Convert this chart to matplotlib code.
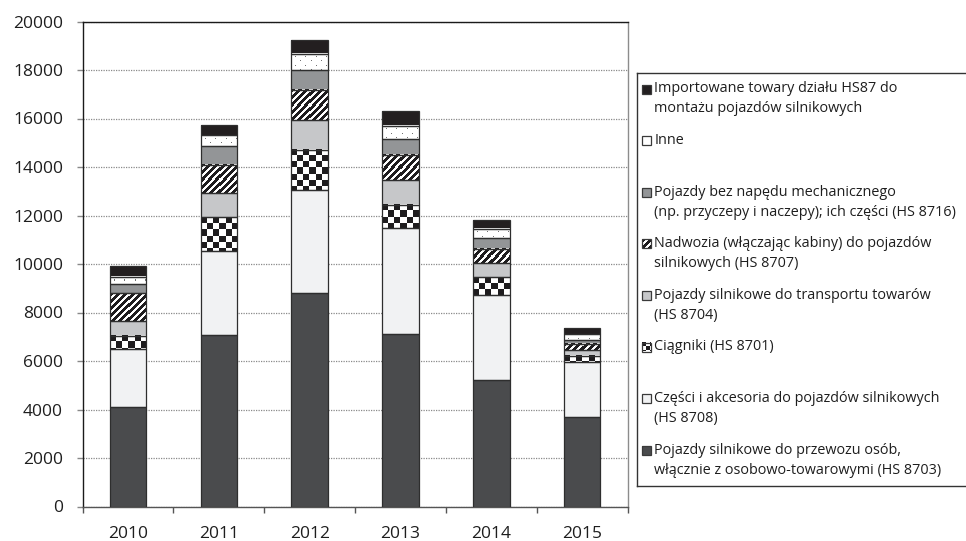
import numpy as np
import matplotlib
matplotlib.use("Agg")
import matplotlib.pyplot as plt
from matplotlib.patches import Rectangle

# ---- data (mln EUR) ----
years = ["2010", "2011", "2012", "2013", "2014", "2015"]
osobowe_8703 = [4090, 7070, 8790, 7120, 5230, 3690]
czesci_8708 = [2400, 3480, 4250, 4350, 3500, 2260]
ciagniki_8701 = [550, 1370, 1650, 950, 730, 270]
towarowe_8704 = [600, 990, 1230, 1040, 580, 230]
nadwozia_8707 = [1150, 1160, 1240, 1040, 590, 270]
bez_napedu_8716 = [400, 780, 850, 670, 440, 160]
inne = [290, 450, 660, 540, 380, 220]
import_hs87 = [440, 450, 550, 600, 370, 280]
yticks = list(range(0, 20001, 2000))

labels = [
    "Pojazdy silnikowe do przewozu osób,\nwłącznie z osobowo-towarowymi (HS 8703)",
    "Części i akcesoria do pojazdów silnikowych\n(HS 8708)",
    "Ciągniki (HS 8701)",
    "Pojazdy silnikowe do transportu towarów\n(HS 8704)",
    "Nadwozia (włączając kabiny) do pojazdów\nsilnikowych (HS 8707)",
    "Pojazdy bez napędu mechanicznego\n(np. przyczepy i naczepy); ich części (HS 8716)",
    "Inne",
    "Importowane towary działu HS87 do\nmontażu pojazdów silnikowych",
]
series = [osobowe_8703, czesci_8708, ciagniki_8701, towarowe_8704,
          nadwozia_8707, bez_napedu_8716, inne, import_hs87]

# fill style of each series: (face colour, texture)
styles = [
    ("#4a4b4d", None),
    ("#f1f2f3", None),
    ("#ffffff", "checker"),
    ("#c6c7c9", None),
    ("#ffffff", "stripes"),
    ("#939597", None),
    ("#ffffff", "dots"),
    ("#231f20", None),
]

plt.rcParams["font.family"] = ["Open Sans", "DejaVu Sans"]

W, H = 966, 541
fig = plt.figure(figsize=(W / 100, H / 100), dpi=100)
ax = fig.add_axes([82.5 / W, 1 - 506.5 / H, (627.7 - 82.5) / W, (506.5 - 21.5) / H])

x = np.arange(len(years))
ax.set_xlim(-0.5, len(years) - 0.5)
ax.set_ylim(0, 20000)

BLACK = np.array([0.12, 0.11, 0.12])
DOT = np.array([0.45, 0.45, 0.45])


def texture_rgb(kind, nh, nw, cell=6):
    rows, cols = np.mgrid[0:nh, 0:nw]
    rgb = np.ones((nh, nw, 3))
    if kind == "checker":
        mask = ((rows // cell + cols // cell) % 2) == 0
        rgb[mask] = BLACK
    elif kind == "stripes":
        mask = ((rows + cols) % 7) < 3.5
        rgb[mask] = BLACK
    elif kind == "dots":
        mask = ((rows % 8) == 3) & ((cols % 10) == 4)
        mask |= ((rows % 8) == 7) & ((cols % 10) == 9)
        rgb[mask] = DOT
    return rgb


def add_texture(axis, patch, kind, cell=6, zorder=3):
    x0, y0 = patch.get_x(), patch.get_y()
    w, h = patch.get_width(), patch.get_height()
    (px0, py0), (px1, py1) = axis.transData.transform([(x0, y0), (x0 + w, y0 + h)])
    nw = max(int(round(abs(px1 - px0))), 1)
    nh = max(int(round(abs(py1 - py0))), 1)
    img = texture_rgb(kind, nh, nw, cell)
    axis.imshow(img, extent=(x0, x0 + w, y0, y0 + h),
                origin="upper", interpolation="nearest", aspect="auto",
                zorder=zorder, clip_path=patch)


bottoms = np.zeros(len(years))
for vals, (face, tex) in zip(series, styles):
    vals = np.asarray(vals, dtype=float)
    bars = ax.bar(x, vals, width=0.4, bottom=bottoms, color=face,
                  linewidth=0, zorder=2)
    if tex:
        for p in bars:
            add_texture(ax, p, tex)
    ax.bar(x, vals, width=0.4, bottom=bottoms, fill=False,
           edgecolor="#2e2e2e", linewidth=0.9, zorder=4)
    bottoms += vals

ax.set_xlim(-0.5, len(years) - 0.5)
ax.set_ylim(0, 20000)

# axes styling
ax.set_yticks(yticks)
ax.set_yticklabels([str(v) for v in yticks])
ax.yaxis.grid(True, linestyle=(0, (1, 1)), color="#8a8a8a", linewidth=0.9)
ax.set_axisbelow(True)
ax.tick_params(axis="y", direction="out", length=4, width=1, color="#888888",
               pad=10, labelsize=12.5, labelcolor="#1e1e1e")
ax.set_xticks(x)
ax.set_xticklabels(years)
ax.set_xticks(np.arange(-0.5, len(years)), minor=True)
ax.tick_params(axis="x", which="major", length=0, pad=14, labelsize=12.5,
               labelcolor="#1e1e1e")
ax.tick_params(axis="x", which="minor", direction="out", length=4.5, width=1,
               color="#555555")
ax.spines["left"].set_color("#1a1a1a")
ax.spines["top"].set_color("#1a1a1a")
ax.spines["right"].set_color("#8c8c8c")
ax.spines["bottom"].set_color("#555555")
for s in ax.spines.values():
    s.set_linewidth(1.0)

# legend panel drawn in pixel units
L0, T0, L1, B0 = 637, 73, 966, 486
lax = fig.add_axes([L0 / W, 1 - B0 / H, (L1 - L0) / W, (B0 - T0) / H])
lax.set_xlim(0, L1 - L0)
lax.set_ylim(B0 - T0, 0)
lax.set_xticks([])
lax.set_yticks([])
lax.patch.set_alpha(0)
for side in ("left", "top", "bottom"):
    lax.spines[side].set_color("#333333")
    lax.spines[side].set_linewidth(1.0)
lax.spines["right"].set_visible(False)

row0, step, line_gap = 16, 51.6, 20
order = list(range(len(series)))[::-1]
for i, k in enumerate(order):
    face, tex = styles[k]
    yc = row0 + step * i
    r = Rectangle((5, yc - 4.5), 9, 9, facecolor=face, linewidth=0, zorder=2)
    lax.add_patch(r)
    if tex in ("checker", "stripes"):
        lax.imshow(texture_rgb(tex, 9, 9, cell=4), extent=(5, 14, yc + 4.5, yc - 4.5),
                   origin="upper", interpolation="nearest", aspect="auto",
                   zorder=3, clip_path=r)
    lax.add_patch(Rectangle((5, yc - 4.5), 9, 9, fill=False,
                            edgecolor="#3a3a3a", linewidth=0.9, zorder=4))
    for j, line in enumerate(labels[k].split("\n")):
        lax.text(17.5, yc + j * line_gap, line, fontsize=10.4, color="#1e1e1e",
                 va="center", ha="left")
lax.set_xlim(0, L1 - L0)
lax.set_ylim(B0 - T0, 0)

fig.savefig("out.png", dpi=100)
